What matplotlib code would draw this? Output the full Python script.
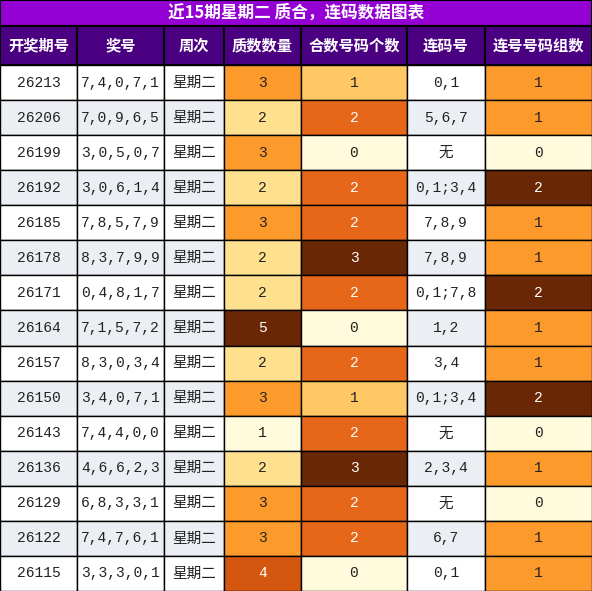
import matplotlib
matplotlib.use("Agg")
import matplotlib.pyplot as plt
from matplotlib.patches import Rectangle

plt.rcParams['font.family'] = ['Noto Sans CJK SC', 'DejaVu Sans']

title = "近15期星期二 质合，连码数据图表"
headers = ["开奖期号", "奖号", "周次", "质数数量", "合数号码个数", "连码号", "连号号码组数"]
periods = ["26213","26206","26199","26192","26185","26178","26171","26164","26157","26150","26143","26136","26129","26122","26115"]
numbers = ["7,4,0,7,1","7,0,9,6,5","3,0,5,0,7","3,0,6,1,4","7,8,5,7,9","8,3,7,9,9","0,4,8,1,7","7,1,5,7,2","8,3,0,3,4","3,4,0,7,1","7,4,4,0,0","4,6,6,2,3","6,8,3,3,1","7,4,7,6,1","3,3,3,0,1"]
weekday = ["星期二"] * 15
primes = [3,2,3,2,3,2,2,5,2,3,1,2,3,3,4]
composites = [1,2,0,2,2,3,2,0,2,1,2,3,2,2,0]
consec = ["0,1","5,6,7","无","0,1;3,4","7,8,9","7,8,9","0,1;7,8","1,2","3,4","0,1;3,4","无","2,3,4","无","6,7","0,1"]
groups = [1,1,0,2,1,1,2,1,1,2,0,1,0,1,1]

W, H = 592, 591
fig = plt.figure(figsize=(W/100, H/100), dpi=100)
ax = fig.add_axes([0, 0, 1, 1])
ax.set_xlim(0, W); ax.set_ylim(H, 0); ax.axis('off')

cols = [0, 77, 164, 224, 301, 407, 485, 592]
title_h, head_h = 26, 39
row_top = title_h + head_h
row_h = (H - row_top) / 15

prime_col = {1: "#FFFBDC", 2: "#FEE08E", 3: "#FD9A2C", 4: "#D45710", 5: "#6A2706"}
comp_col = {0: "#FFFBDC", 1: "#FEC964", 2: "#E7671A", 3: "#6A2706"}
grp_col = {0: "#FFFBDC", 1: "#FD9A2C", 2: "#6A2706"}
dark = {"#D45710", "#6A2706", "#E7671A"}

ax.add_patch(Rectangle((0, 0), W, title_h, fc="#9400D3", ec="black", lw=1.5))
ax.text(W/2, title_h/2, title, ha='center', va='center', color='white', fontsize=12, fontweight='bold')
for i, h in enumerate(headers):
    ax.add_patch(Rectangle((cols[i], title_h), cols[i+1]-cols[i], head_h, fc="#4B0082", ec="black", lw=1.5))
    ax.text((cols[i]+cols[i+1])/2, title_h+head_h/2, h, ha='center', va='center', color='white', fontsize=11, fontweight='bold')

mono = ['Liberation Mono', 'Noto Sans CJK SC']
for r in range(15):
    y = row_top + r*row_h
    base = "#FFFFFF" if r % 2 == 0 else "#EBEFF3"
    vals = [periods[r], numbers[r], weekday[r], str(primes[r]), str(composites[r]), consec[r], str(groups[r])]
    fills = [base, base, base, prime_col[primes[r]], comp_col[composites[r]], base, grp_col[groups[r]]]
    for c in range(7):
        ax.add_patch(Rectangle((cols[c], y), cols[c+1]-cols[c], row_h, fc=fills[c], ec="black", lw=1))
        tc = "white" if fills[c] in dark else "#222222"
        fam = ['Noto Sans CJK SC', 'DejaVu Sans'] if c == 2 or vals[c] == "无" else mono
        ax.text((cols[c]+cols[c+1])/2, y+row_h/2, vals[c], ha='center', va='center', color=tc, fontsize=10.5, family=fam)

fig.savefig("out.png", dpi=100)
